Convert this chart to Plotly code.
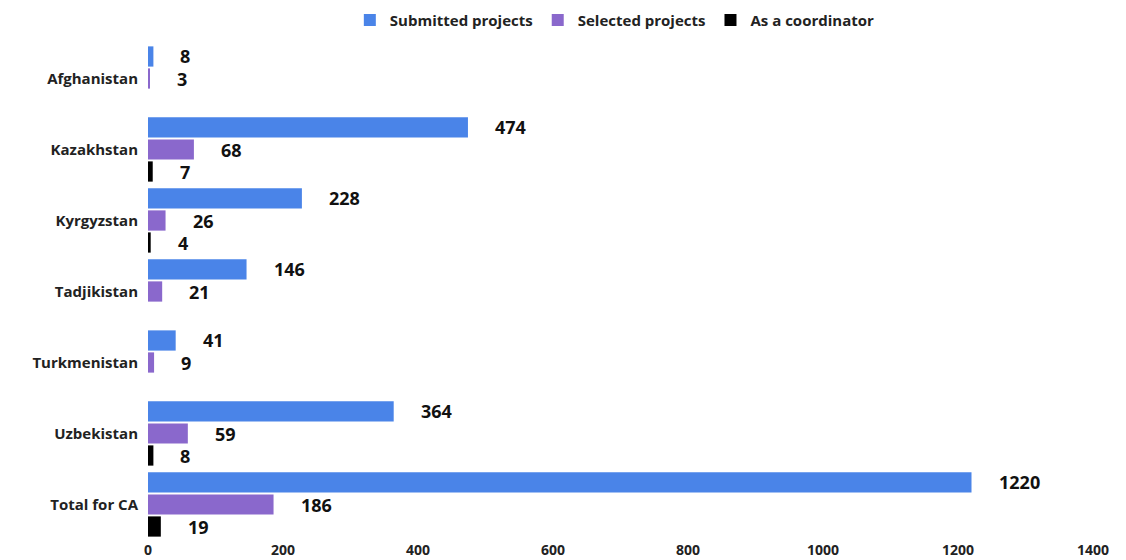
import plotly.graph_objects as go

categories = ["Afghanistan", "Kazakhstan", "Kyrgyzstan", "Tadjikistan",
              "Turkmenistan", "Uzbekistan", "Total for CA"]
submitted = [8, 474, 228, 146, 41, 364, 1220]
selected = [3, 68, 26, 21, 9, 59, 186]
coordinator = [None, 7, 4, None, None, 8, 19]
series_names = ["Submitted projects", "Selected projects", "As a coordinator"]
colors = ["#4a84e8", "#8a68cc", "#000000"]
x_ticks = [0, 200, 400, 600, 800, 1000, 1200, 1400]

FONT = "Open Sans"
BARGAP = 0.07
fig = go.Figure()
for name, vals, col in zip(series_names, [submitted, selected, coordinator], colors):
    fig.add_trace(go.Bar(
        y=categories, x=vals, name=f"<b>{name}</b>", orientation="h",
        marker=dict(color=col, line=dict(width=0)),
        offsetgroup=name,
    ))

# value labels
n = len(series_names)
slot = (1 - BARGAP) / n
for si, vals in enumerate([submitted, selected, coordinator]):
    for ci, v in enumerate(vals):
        if v is None:
            continue
        fig.add_annotation(
            x=v, y=ci + (si - (n - 1) / 2) * slot, xref="x", yref="y",
            text=f"<b>{v}</b>", showarrow=False, xanchor="left", xshift=26,
            borderpad=0,
            font=dict(family=FONT, size=18, color="#111111"),
        )

fig.update_layout(
    width=1126, height=560,
    paper_bgcolor="white", plot_bgcolor="white",
    margin=dict(l=148, r=33, t=43, b=20, autoexpand=False),
    barmode="group", bargap=BARGAP, bargroupgap=0.08,
    font=dict(family=FONT, color="#222222"),
    legend=dict(orientation="h", x=0.494, xanchor="center", y=0.964, yanchor="middle",
                yref="container", font=dict(family=FONT, size=15, color="#222222"),
                traceorder="normal", itemwidth=30),
    showlegend=True,
)
fig.update_xaxes(range=[0, 1400], tickvals=x_ticks,
                 ticktext=[f"<b>{t}</b>" for t in x_ticks],
                 showgrid=False, zeroline=False, showline=False, automargin=False,
                 tickfont=dict(family=FONT, size=14, color="#222222"))
fig.update_yaxes(categoryorder="array", categoryarray=categories, autorange="reversed",
                 tickvals=categories, ticktext=[f"<b>{c}</b>" for c in categories],
                 showgrid=False, zeroline=False, showline=False, automargin=False,
                 ticks="outside", ticklen=6, tickcolor="white",
                 tickfont=dict(family=FONT, size=15, color="#222222"))
fig.write_html("out.html", config={"displayModeBar": False},
               post_script="document.body.style.margin='0px';")
